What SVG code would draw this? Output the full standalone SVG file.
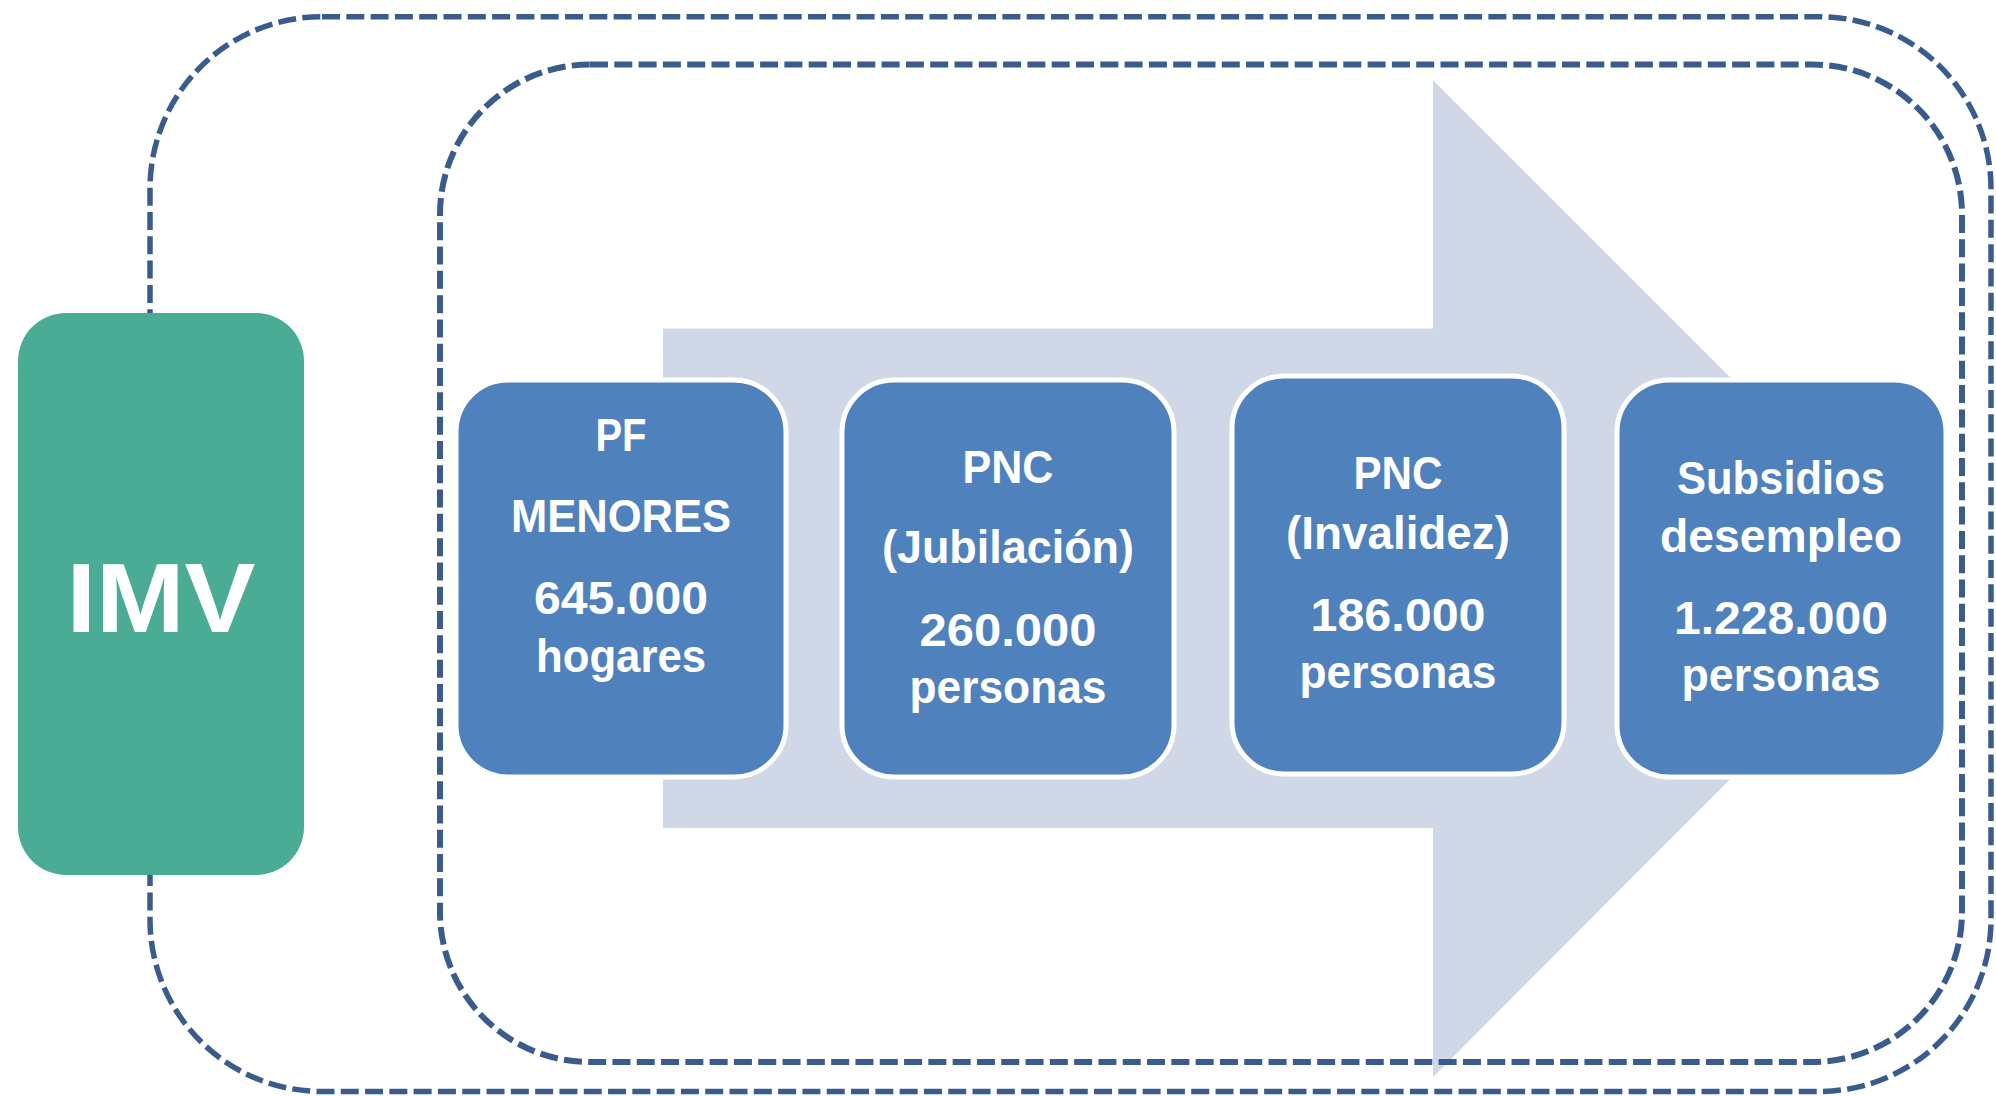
<svg xmlns="http://www.w3.org/2000/svg" width="1996" height="1096" viewBox="0 0 1996 1096">
<style>
.frame{fill:none;stroke:#3A5C8D;stroke-dasharray:18 6.3}
.box{fill:#4F81BD;stroke:#FFFFFF;stroke-width:5}
.t{font-family:"Liberation Sans",Arial,sans-serif;font-weight:bold;fill:#FFFFFF;text-anchor:middle;font-size:46px}
</style>
<rect width="1996" height="1096" fill="#FFFFFF"/>
<g id="connectors">
<polygon id="arrow" points="663,328.5 1433,328.5 1433,80 1931,578 1433,1077 1433,828 663,828" fill="#D0D8E7"/>
<rect id="outer-frame" class="frame" x="150" y="16.7" width="1841" height="1074.8" rx="172" ry="172" stroke-width="5.5"/>
<rect id="inner-frame" class="frame" x="440" y="64.5" width="1522" height="997.5" rx="150" ry="150" stroke-width="6"/>
</g>
<g id="imv">
<rect x="18" y="313" width="286" height="562" rx="48" ry="48" fill="#4BAC95"/>
<text class="t" x="161" y="632" style="font-size:99px" textLength="189" lengthAdjust="spacingAndGlyphs">IMV</text>
</g>
<g id="pf-menores">
<rect class="box" x="456" y="380" width="330" height="397" rx="52" ry="52"/>
<text class="t" x="621" y="451" textLength="51" lengthAdjust="spacingAndGlyphs">PF</text>
<text class="t" x="621" y="532" textLength="220" lengthAdjust="spacingAndGlyphs">MENORES</text>
<text class="t" x="621" y="614" textLength="174" lengthAdjust="spacingAndGlyphs">645.000</text>
<text class="t" x="621" y="672" textLength="170" lengthAdjust="spacingAndGlyphs">hogares</text>
</g>
<g id="pnc-jubilacion">
<rect class="box" x="842" y="380" width="332" height="397" rx="52" ry="52"/>
<text class="t" x="1008" y="483" textLength="91" lengthAdjust="spacingAndGlyphs">PNC</text>
<text class="t" x="1008" y="563" textLength="252" lengthAdjust="spacingAndGlyphs">(Jubilación)</text>
<text class="t" x="1008" y="646" textLength="177" lengthAdjust="spacingAndGlyphs">260.000</text>
<text class="t" x="1008" y="703" textLength="197" lengthAdjust="spacingAndGlyphs">personas</text>
</g>
<g id="pnc-invalidez">
<rect class="box" x="1232" y="376" width="332" height="398" rx="52" ry="52"/>
<text class="t" x="1398" y="489" textLength="89" lengthAdjust="spacingAndGlyphs">PNC</text>
<text class="t" x="1398" y="549" textLength="224" lengthAdjust="spacingAndGlyphs">(Invalidez)</text>
<text class="t" x="1398" y="631" textLength="175" lengthAdjust="spacingAndGlyphs">186.000</text>
<text class="t" x="1398" y="688" textLength="197" lengthAdjust="spacingAndGlyphs">personas</text>
</g>
<g id="subsidios-desempleo">
<rect class="box" x="1617" y="380" width="329" height="397" rx="52" ry="52"/>
<text class="t" x="1781" y="494" textLength="208" lengthAdjust="spacingAndGlyphs">Subsidios</text>
<text class="t" x="1781" y="552" textLength="242" lengthAdjust="spacingAndGlyphs">desempleo</text>
<text class="t" x="1781" y="634" textLength="214" lengthAdjust="spacingAndGlyphs">1.228.000</text>
<text class="t" x="1781" y="691" textLength="199" lengthAdjust="spacingAndGlyphs">personas</text>
</g>
</svg>
